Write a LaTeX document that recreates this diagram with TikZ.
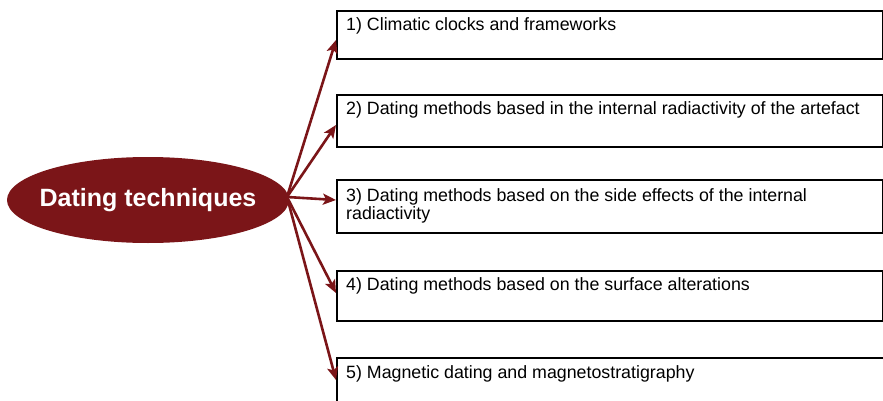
\documentclass[tikz,border=0pt]{standalone}
\usepackage{fontspec}
\setmainfont{Liberation Sans}
\usetikzlibrary{arrows.meta,shapes.geometric,calc}
\definecolor{darkred}{HTML}{7B1518}
\tikzset{
  boxnode/.style={draw=black,line width=2.2pt,fill=white,anchor=north west,inner sep=0pt},
  boxtext/.style={anchor=base west,inner sep=0pt,font=\fontsize{17.8}{19}\selectfont,align=left},
  conn/.style={draw=darkred,line width=2.6pt,-{Stealth[length=13pt,width=11pt,inset=3pt]}},
  hub/.style={ellipse,fill=darkred,inner sep=0pt,minimum width=282pt,minimum height=86pt,
    text=white,font=\fontsize{25}{28}\selectfont\bfseries}
}
\begin{document}
\begin{tikzpicture}[x=1pt,y=-1pt]
\clip (0,0) rectangle (883,401);
\fill[white] (0,0) rectangle (883,401);
\node[hub] (hub) at (148,200) {\makebox[0pt]{Dating techniques}};
\coordinate (src) at (287,197);
\node[boxnode,minimum width=546pt,minimum height=48pt] (b1) at (336,10) {};
\node[boxnode,minimum width=546pt,minimum height=52pt] (b2) at (336,94) {};
\node[boxnode,minimum width=546pt,minimum height=53pt] (b3) at (336,179) {};
\node[boxnode,minimum width=546pt,minimum height=50pt] (b4) at (336,270) {};
\node[boxnode,minimum width=560pt,minimum height=60pt] (b5) at (336,357) {};
\node[boxtext] (t1) at ($(b1.north west)+(10,21)$) {1) Climatic clocks and frameworks};
\node[boxtext] (t2) at ($(b2.north west)+(10,20)$) {2) Dating methods based in the internal radiactivity of the artefact};
\node[boxtext] (t3) at ($(b3.north west)+(10,22)$) {3) Dating methods based on the side effects of the internal};
\node[boxtext] (t3b) at ($(b3.north west)+(10,40)$) {radiactivity};
\node[boxtext] (t4) at ($(b4.north west)+(10,20)$) {4) Dating methods based on the surface alterations};
\node[boxtext] (t5) at ($(b5.north west)+(10,21)$) {5) Magnetic dating and magnetostratigraphy};
\draw[conn] (src) -- ($(b1.north west)+(0,30)$);
\draw[conn] (src) -- ($(b2.north west)+(0,31)$);
\draw[conn] (src) -- ($(b3.north west)+(0,21)$);
\draw[conn] (src) -- ($(b4.north west)+(0,23)$);
\draw[conn] (src) -- ($(b5.north west)+(0,23)$);
\end{tikzpicture}
\end{document}
